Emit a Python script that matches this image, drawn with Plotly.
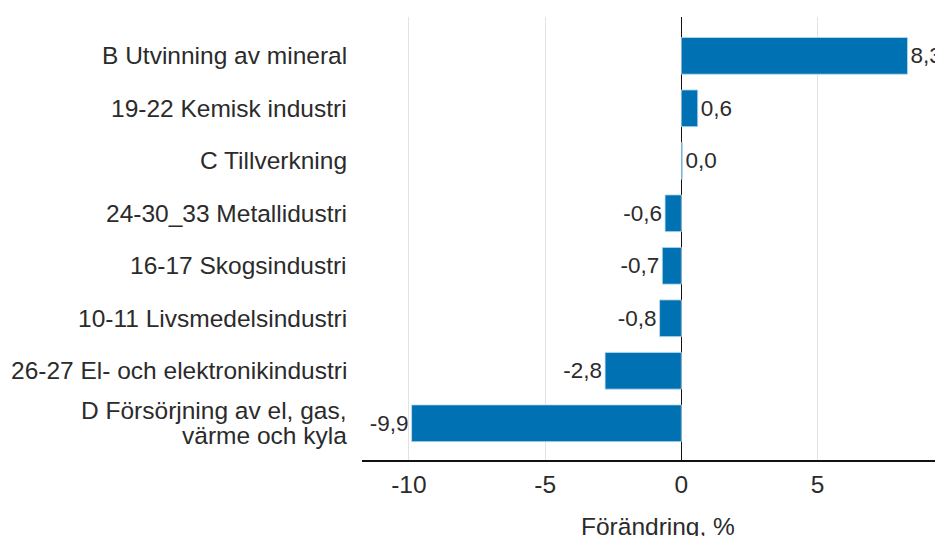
import plotly.graph_objects as go

categories = [
    "B Utvinning av mineral",
    "19-22 Kemisk industri",
    "C Tillverkning",
    "24-30_33 Metallidustri",
    "16-17 Skogsindustri",
    "10-11 Livsmedelsindustri",
    "26-27 El- och elektronikindustri",
    "D Försörjning av el, gas,<br>värme och kyla",
]
values = [8.3, 0.6, 0.04, -0.6, -0.7, -0.8, -2.8, -9.9]
tick_vals = [-10, -5, 0, 5]
tick_text = ["-10", "-5", "0", "5"]
x_title = "Förändring, %"

FONT = "Liberation Sans, Arial, sans-serif"
TXT = "#2b2b2b"
BLUE = "#0071b2"

labels = [f"{v:.1f}".replace(".", ",") for v in values]

fig = go.Figure()
fig.add_trace(go.Bar(
    x=values,
    y=categories,
    orientation="h",
    width=0.7,
    marker=dict(color=BLUE, line=dict(color="rgba(190,220,240,0.8)", width=1)),
    text=labels,
    textposition="outside",
    textfont=dict(family=FONT, size=22.5, color=TXT),
    cliponaxis=False,
    hoverinfo="skip",
))

# category labels as annotations (tighter line spacing for wrapped label)
line_h = 25
for cat in categories:
    lines = cat.split("<br>")
    n = len(lines)
    for i, ln in enumerate(lines):
        fig.add_annotation(
            x=0, xref="paper", xanchor="right", xshift=-13,
            y=cat, yref="y", yanchor="middle",
            yshift=((n - 1) / 2 - i) * line_h,
            text=ln, showarrow=False,
            font=dict(family=FONT, size=24.5, color=TXT),
        )

# x-axis title (partly cut at the bottom edge, as in the reference)
fig.add_annotation(
    x=0.5, xref="paper", xanchor="center", xshift=5,
    y=0, yref="paper", yanchor="middle", yshift=-66,
    text=x_title, showarrow=False,
    font=dict(family=FONT, size=24.5, color=TXT),
)

fig.update_layout(
    width=935, height=528,
    margin=dict(l=354, r=0, t=9, b=76),
    paper_bgcolor="white", plot_bgcolor="white",
    showlegend=False,
    font=dict(family=FONT, size=24.5, color=TXT),
    bargap=0.3,
)
fig.update_xaxes(
    automargin=False,
    range=[-11.72, 9.6],
    tickvals=tick_vals, ticktext=tick_text,
    showgrid=True, gridcolor="#e3e3e3", gridwidth=1,
    zeroline=True, zerolinecolor="#111111", zerolinewidth=1,
    showline=True, linecolor="#111111", linewidth=1.5,
    ticks="", ticklabelstandoff=2,
    tickfont=dict(family=FONT, size=24.5, color=TXT),
    fixedrange=True,
)
fig.update_yaxes(
    automargin=False,
    type="category",
    range=[7.7, -0.74],
    showticklabels=False,
    showgrid=False, zeroline=False, showline=False, ticks="",
    fixedrange=True,
)

fig.write_html("out.html")
